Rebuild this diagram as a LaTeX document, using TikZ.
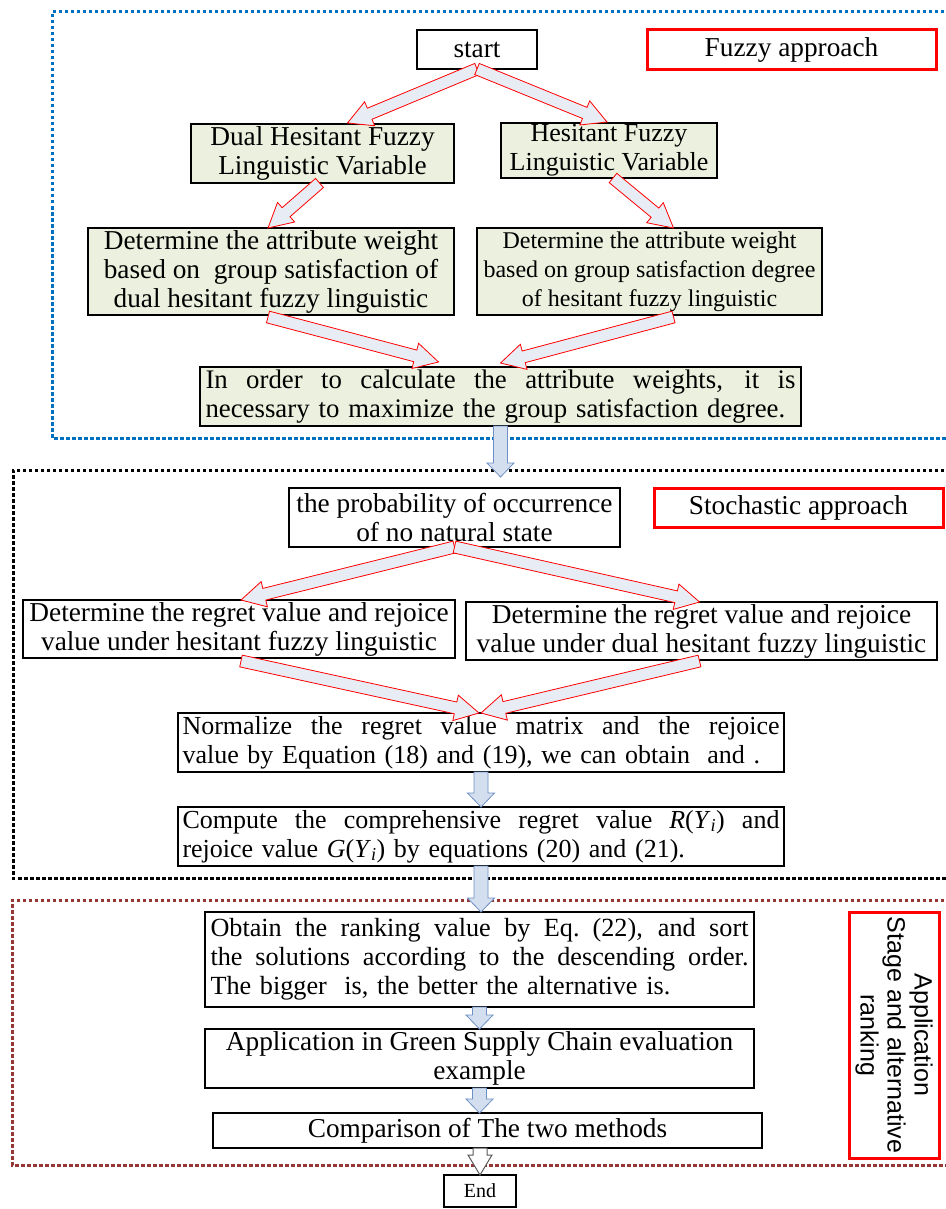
\documentclass[tikz,border=0pt]{standalone}
\usepackage{fontspec}
\setmainfont{Liberation Serif}
\newfontfamily\sidefont{Liberation Sans}
\usetikzlibrary{calc}
\definecolor{boxgreen}{HTML}{EBF1DE}
\definecolor{arrfill}{HTML}{E8ECF4}
\definecolor{bluefill}{HTML}{D3DEEE}
\definecolor{blueline}{HTML}{6E90C6}
\definecolor{frameblue}{HTML}{0070C0}
\definecolor{framered}{HTML}{953735}
\definecolor{grayline}{HTML}{595959}
\newcommand\mainfs{\fontsize{27.3pt}{29pt}\selectfont}
\newcommand\smallfs{\fontsize{24pt}{29pt}\selectfont}
\newcommand\jl[2]{\leavevmode\hbox to #1{\spaceskip=0.25em plus 1fil\relax #2}}
% block arrow: style, from, to, half shaft, half head, head length
\newcommand\barrow[6]{%
 \draw[#1] let \p1=(#2), \p2=(#3), \n1={veclen(\x2-\x1,\y2-\y1)},
   \p3=({(\x2-\x1)/\n1},{(\y2-\y1)/\n1}) in
   ({\x1-#4*\y3},{\y1+#4*\x3})
   -- ({\x2-#6*\x3-#4*\y3},{\y2-#6*\y3+#4*\x3})
   -- ({\x2-#6*\x3-#5*\y3},{\y2-#6*\y3+#5*\x3})
   -- (\p2)
   -- ({\x2-#6*\x3+#5*\y3},{\y2-#6*\y3-#5*\x3})
   -- ({\x2-#6*\x3+#4*\y3},{\y2-#6*\y3-#4*\x3})
   -- ({\x1+#4*\y3},{\y1-#4*\x3}) -- cycle;}
\begin{document}
\begin{tikzpicture}[x=1pt,y=-1pt,
  box/.style={draw=black, line width=1.1pt, inner sep=0pt, outer sep=0pt, font=\mainfs, align=center},
  gbox/.style={box, fill=boxgreen},
  wbox/.style={box, fill=white},
  lab/.style={draw=red, line width=3pt, inner sep=0pt, font=\mainfs, align=center},
  redarr/.style={draw=red, fill=arrfill, line width=0.8pt, line join=miter},
  bluearr/.style={draw=blueline, fill=bluefill, line width=0.8pt},
  grayarr/.style={draw=grayline, fill=white, line width=1pt},
  frame/.style={line width=3pt, dash pattern=on 3.5pt off 2.5pt}]
\useasboundingbox (0,0) rectangle (945,1209);
\fill[white] (0,0) rectangle (945,1209);
% stage frames
\draw[frame, frameblue] (950,12) -- (52,12) -- (52,438) -- (950,438);
\draw[frame, black] (950,470) -- (13,470) -- (13,878) -- (950,878);
\draw[frame, framered] (950,900) -- (12,900) -- (12,1165) -- (950,1165);
% fuzzy stage
\node[wbox, minimum width=120pt, minimum height=39pt] (start) at (477,49.5) {start};
\node[lab, minimum width=289pt, minimum height=40pt] (fuzzy) at (791.5,50) {Fuzzy approach};
\node[gbox, minimum width=263pt, minimum height=59pt] (dual) at (322.5,153.5) {Dual Hesitant Fuzzy\\Linguistic Variable};
\node[gbox, minimum width=216pt, minimum height=55pt, font=\fontsize{26pt}{29pt}\selectfont] (hes) at (609,150.5) {Hesitant Fuzzy\\Linguistic Variable};
\node[gbox, minimum width=366pt, minimum height=87pt] (dw) at (271,271.5) {Determine the attribute weight\\based on\ \ group satisfaction of\\dual hesitant fuzzy linguistic};
\node[gbox, minimum width=345pt, minimum height=87pt, font=\smallfs] (hw) at (649.5,271.5) {Determine the attribute weight\\based on group satisfaction degree\\of hesitant fuzzy linguistic};
\node[gbox, minimum width=601pt, minimum height=59pt, text width=590pt, align=left, font=\fontsize{26.8pt}{29pt}\selectfont] (order) at (500.5,396.5) {\jl{590pt}{In order to calculate the attribute weights, it is}\\\mbox{necessary to maximize the group satisfaction degree.}};
% stochastic stage
\node[wbox, minimum width=331pt, minimum height=59pt] (prob) at (454.5,517.5) {the probability of occurrence\\of no natural state};
\node[lab, minimum width=289pt, minimum height=39pt] (stoch) at (798.5,507.5) {Stochastic approach};
\node[wbox, minimum width=432pt, minimum height=58pt] (rl) at (239,629) {Determine the regret value and rejoice\\value under hesitant fuzzy linguistic};
\node[wbox, minimum width=471pt, minimum height=58pt] (rr) at (701.5,631) {Determine the regret value and rejoice\\value under dual hesitant fuzzy linguistic};
\node[wbox, minimum width=606pt, minimum height=59pt, text width=597pt, align=left, font=\fontsize{26pt}{29pt}\selectfont] (norm) at (481,742.5) {\jl{597pt}{Normalize the regret value matrix and the rejoice}\\\mbox{value by Equation (18) and (19), we can obtain\ \ and .}};
\node[wbox, minimum width=606pt, minimum height=59pt, text width=597pt, align=left, font=\fontsize{26pt}{29pt}\selectfont] (comp) at (481,836.5) {\jl{597pt}{Compute the comprehensive regret value \textit{R}(\textit{Y}\textsubscript{\textit{i}}) and}\\\mbox{rejoice value \textit{G}(\textit{Y}\textsubscript{\textit{i}}) by equations (20) and (21).}};
% application stage
\node[wbox, minimum width=549pt, minimum height=95pt, text width=538pt, align=left, font=\fontsize{26.2pt}{29pt}\selectfont] (obtain) at (479.5,959.5) {\jl{538pt}{Obtain the ranking value by Eq. (22), and sort}\\\jl{538pt}{the solutions according to the descending order.}\\\mbox{The bigger\ \ is, the better the alternative is.}};
\node[wbox, minimum width=549pt, minimum height=59pt] (appl) at (479.5,1058.5) {Application in Green Supply Chain evaluation\\example};
\node[wbox, minimum width=549pt, minimum height=35pt] (cmp) at (487.5,1130.5) {Comparison of The two methods};
\node[wbox, minimum width=72pt, minimum height=32pt, font=\fontsize{20pt}{22pt}\selectfont] (end) at (480,1191) {End};
\node[lab, rotate=-90, minimum width=246pt, minimum height=90pt, font=\sidefont\fontsize{25pt}{27pt}\selectfont] (side) at (894,1035) {Application\\Stage and alternative\\ranking};
% arrows
\barrow{redarr}{start.south}{$(dual.north)+(25,-1)$}{6}{13}{24}
\barrow{redarr}{start.south}{$(hes.north)+(-2,-1)$}{6}{13}{24}
\barrow{redarr}{$(dual.south)+(-3,0)$}{$(dw.north)+(-3,0)$}{6}{13}{24}
\barrow{redarr}{$(hes.south)+(4,0)$}{$(hw.north)+(24,0)$}{6}{13}{24}
\barrow{redarr}{$(dw.south)+(-3,2)$}{$(order.north)+(-62,-5)$}{6}{13}{24}
\barrow{redarr}{$(hw.south)+(24,2)$}{$(order.north)+(0,-4)$}{6}{13}{24}
\barrow{bluearr}{order.south}{$(prob.north)+(46,-11)$}{7}{13.5}{14}
\barrow{redarr}{prob.south}{$(rl.north)+(2,0)$}{6}{13}{24}
\barrow{redarr}{prob.south}{$(rr.north)+(-2,0)$}{6}{13}{24}
\barrow{redarr}{$(rl.south)+(2,3)$}{$(norm.north)+(-2,0)$}{6}{13}{24}
\barrow{redarr}{$(rr.south)+(-2,1)$}{$(norm.north)+(0,0)$}{6}{13}{24}
\barrow{bluearr}{norm.south}{comp.north}{7}{13.5}{14}
\barrow{bluearr}{comp.south}{comp.south |- obtain.north}{7}{13.5}{14}
\barrow{bluearr}{obtain.south}{appl.north}{7}{13.5}{14}
\barrow{bluearr}{appl.south}{appl.south |- cmp.north}{7}{13.5}{14}
\barrow{grayarr}{end.north |- cmp.south}{end.north}{7}{12}{20}
\end{tikzpicture}
\end{document}
